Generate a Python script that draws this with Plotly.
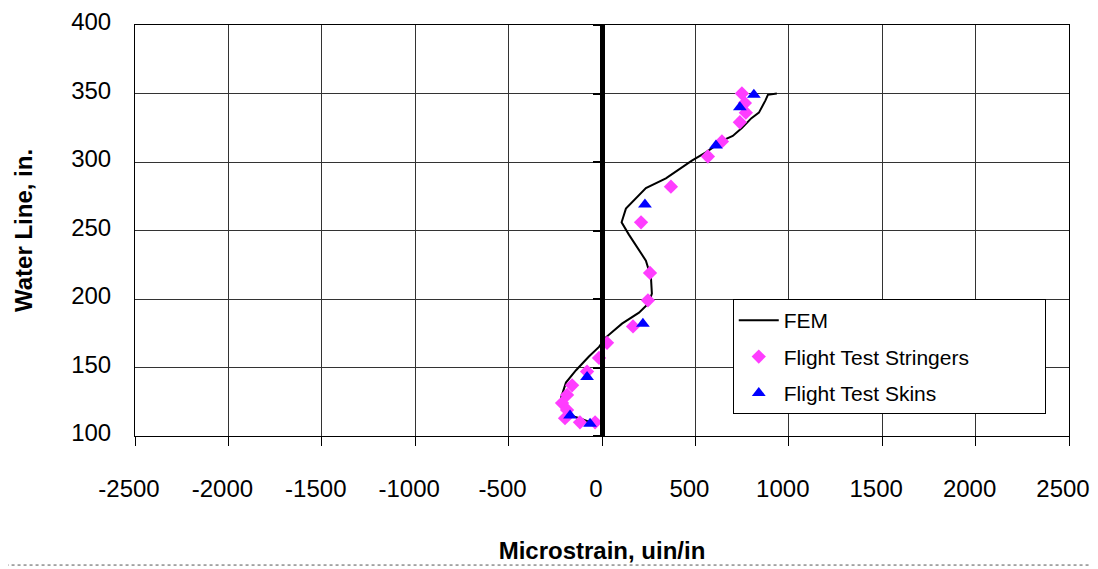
import plotly.graph_objects as go

# FEM curve
fem_x = [936, 888, 875, 840, 800, 750, 700, 650, 556, 481, 342, 235, 128, 105, 144, 198, 235, 262, 267, 250, 198, 107, 21, -16, -70, -139, -193, -219, -205, -171, -120, -64, -30]
fem_y = [350, 349, 345, 336, 332, 325, 319, 316, 307, 301, 288, 281, 266, 256, 247, 236, 228, 216, 204, 197, 190, 182, 172, 165, 158, 148, 139, 128, 121, 115, 113, 110, 109]

# Flight test stringers
str_x = [749, 765, 770, 738, 642, 567, 369, 209, 257, 246, 166, 27, -16, -80, -160, -187, -214, -187, -198, -118, -37]
str_y = [350, 343, 336, 329, 315, 304, 282, 256, 219, 199, 180, 168, 157, 147, 137, 130, 124, 119, 113, 110, 110]

# Flight test skins
skin_x = [813, 738, 610, 230, 219, -80, -171, -64]
skin_y = [349, 340, 312, 269, 182, 143, 115, 109]

x_ticks = [-2500, -2000, -1500, -1000, -500, 0, 500, 1000, 1500, 2000, 2500]
y_ticks = [100, 150, 200, 250, 300, 350, 400]

FONT = "Liberation Sans, Arial, sans-serif"
PAD = "&nbsp;" * 12

fig = go.Figure()
fig.add_trace(go.Scatter(x=fem_x, y=fem_y, mode="lines", name="FEM",
                         line=dict(color="black", width=2), legendgroup="a"))
fig.add_trace(go.Scatter(x=str_x, y=str_y, mode="markers", name="Flight Test Stringers" + PAD,
                         marker=dict(symbol="diamond", size=11, color="#FF3DFF"), legendgroup="b"))
fig.add_trace(go.Scatter(x=skin_x, y=skin_y, mode="markers", name="Flight Test Skins",
                         marker=dict(symbol="triangle-up", size=12, color="#0000FF"), legendgroup="c"))
# empty helper trace so the axis at x = 0 (yaxis2) is drawn
fig.add_trace(go.Scatter(x=[], y=[], yaxis="y2", showlegend=False, hoverinfo="skip"))

fig.update_layout(
    width=1090, height=561,
    margin=dict(l=127, r=29, t=17, b=133),
    paper_bgcolor="white", plot_bgcolor="white",
    font=dict(family=FONT, color="black", size=24),
    showlegend=True,
    legend=dict(x=0.640, y=0.333, xanchor="left", yanchor="top",
                bordercolor="black", borderwidth=1, bgcolor="white",
                font=dict(size=21, family=FONT), tracegroupgap=6,
                itemwidth=40),
    xaxis=dict(range=[-2500, 2500], tickvals=x_ticks, ticktext=[str(v) for v in x_ticks],
               showgrid=True, gridcolor="#333333", gridwidth=1,
               zeroline=True, zerolinecolor="black", zerolinewidth=5,
               showline=True, linecolor="black", linewidth=1, mirror=True,
               ticks="outside", ticklen=9, tickcolor="black", tickwidth=1,
               ticklabelstandoff=22, ticklabelshift=-6, ticklabeloverflow="allow",
               tickfont=dict(size=24), automargin=False,
               title=dict(text="<b>Microstrain, uin/in</b>", font=dict(size=24), standoff=41)),
    yaxis=dict(range=[100, 400], tickvals=y_ticks,
               showgrid=True, gridcolor="#333333", gridwidth=1,
               zeroline=False, showline=True, linecolor="black", linewidth=1, mirror=True,
               ticks="", ticklabelstandoff=18, ticklabelshift=-3, ticklabeloverflow="allow",
               tickfont=dict(size=24), automargin=False,
               title=dict(text="<b>Water Line, in.</b>", font=dict(size=24), standoff=31)),
    yaxis2=dict(range=[100, 400], tickvals=y_ticks, overlaying="y", anchor="free", position=0.5,
                side="left", showgrid=False, zeroline=False, showticklabels=False,
                showline=True, linecolor="black", linewidth=5, automargin=False,
                ticks="outside", ticklen=7, tickwidth=2, tickcolor="black"),
    shapes=[dict(type="line", xref="paper", yref="paper", x0=-0.145, x1=1.03, y0=-0.314, y1=-0.314,
                 line=dict(color="#555555", width=1, dash="dot"))],
)

fig.write_html("out.html")
